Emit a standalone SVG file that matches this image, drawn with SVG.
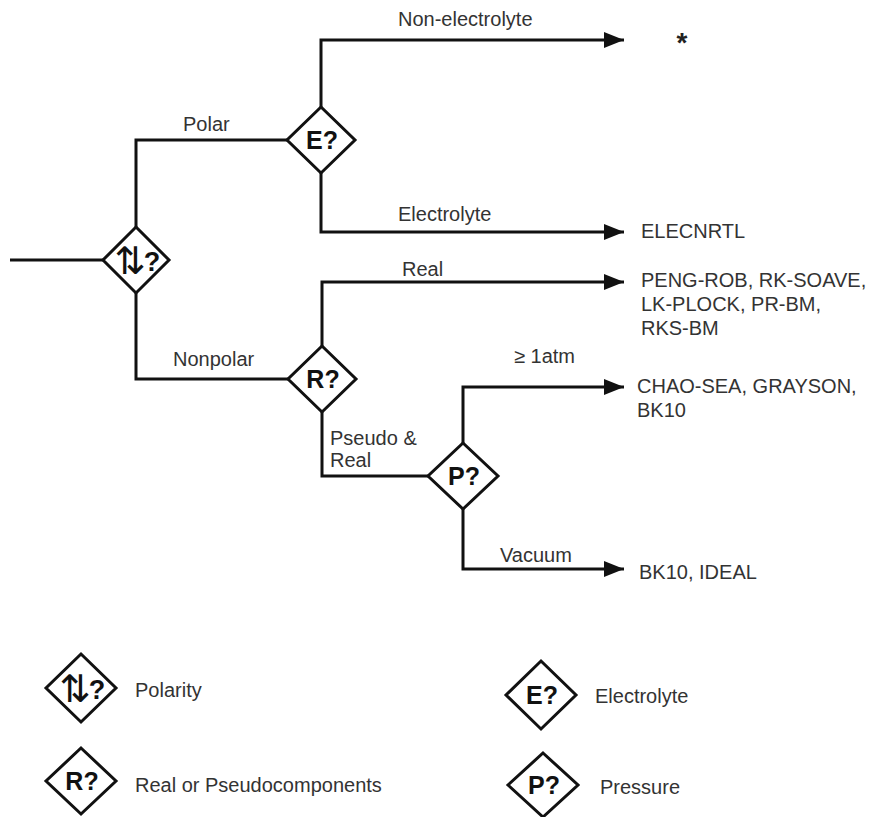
<svg xmlns="http://www.w3.org/2000/svg" width="875" height="817" viewBox="0 0 875 817">
<style>
.ln{fill:none;stroke:#111;stroke-width:3}
.dm{fill:#fff;stroke:#111;stroke-width:3;stroke-linejoin:miter}
.dl{font-family:"Liberation Sans",Arial,sans-serif;font-weight:bold;font-size:25px;fill:#111;text-anchor:middle}
.pl{fill:#111}
.ar{font-family:"DejaVu Sans",sans-serif;font-size:38px;letter-spacing:-21px}
.q{font-family:"Liberation Sans",Arial,sans-serif;font-weight:bold;font-size:27px}
.tx{font-family:"Liberation Sans",Arial,sans-serif;font-size:20px;fill:#333}
.st{font-family:"Liberation Sans",Arial,sans-serif;font-weight:bold;font-size:28px;fill:#222;text-anchor:middle}
</style>
<defs>
<marker id="ah" markerUnits="userSpaceOnUse" markerWidth="20" markerHeight="16" refX="20" refY="8" orient="auto">
<path d="M0,0 L20,8 L0,16 z" fill="#111"/>
</marker>
</defs>
<rect width="875" height="817" fill="#fff"/>
<g id="connectors">
<path class="ln" d="M10,260 H103"/>
<path class="ln" d="M136,227 V140 H287"/>
<path class="ln" d="M136,293 V379 H288"/>
<path class="ln" d="M321,107 V40 H624" marker-end="url(#ah)"/>
<path class="ln" d="M321,173 V232 H624" marker-end="url(#ah)"/>
<path class="ln" d="M322,346 V282 H624" marker-end="url(#ah)"/>
<path class="ln" d="M322,412 V476 H428"/>
<path class="ln" d="M463,443 V387 H624" marker-end="url(#ah)"/>
<path class="ln" d="M463,509 V569 H624" marker-end="url(#ah)"/>
</g>
<g id="edge-labels">
<text class="tx" x="183" y="131">Polar</text>
<text class="tx" x="173" y="366">Nonpolar</text>
<text class="tx" x="398" y="26">Non-electrolyte</text>
<text class="tx" x="398" y="221">Electrolyte</text>
<text class="tx" x="402" y="276">Real</text>
<text class="tx" x="330" y="445">Pseudo &amp;</text>
<text class="tx" x="330" y="467">Real</text>
<text class="tx" x="514" y="363">≥ 1atm</text>
<text class="tx" x="500" y="562">Vacuum</text>
</g>
<g id="node-polarity">
<path class="dm" d="M136,227 L169,260 L136,293 L103,260 Z"/>
<text class="pl" y="274"><tspan class="ar" x="109">↑↓</tspan><tspan class="q" dx="13" dy="-3">?</tspan></text>
</g>
<g id="node-electrolyte">
<path class="dm" d="M321,107 L355,140 L321,173 L287,140 Z"/>
<text class="dl" x="322" y="149">E?</text>
</g>
<g id="node-real">
<path class="dm" d="M322,346 L356,379 L322,412 L288,379 Z"/>
<text class="dl" x="323" y="388">R?</text>
</g>
<g id="node-pressure">
<path class="dm" d="M463,443 L498,476 L463,509 L428,476 Z"/>
<text class="dl" x="464" y="485">P?</text>
</g>
<g id="result-nonelectrolyte">
<text class="st" x="682" y="52">*</text>
</g>
<g id="result-elecnrtl">
<text class="tx" x="641" y="238">ELECNRTL</text>
</g>
<g id="result-real">
<text class="tx" x="641" y="287">PENG-ROB, RK-SOAVE,</text>
<text class="tx" x="641" y="311">LK-PLOCK, PR-BM,</text>
<text class="tx" x="641" y="335">RKS-BM</text>
</g>
<g id="result-high-pressure">
<text class="tx" x="637" y="393">CHAO-SEA, GRAYSON,</text>
<text class="tx" x="637" y="417">BK10</text>
</g>
<g id="result-vacuum">
<text class="tx" x="639" y="579">BK10, IDEAL</text>
</g>
<g id="legend-polarity">
<path class="dm" d="M81,654 L116,688 L81,722 L46,688 Z"/>
<text class="pl" y="702"><tspan class="ar" x="54">↑↓</tspan><tspan class="q" dx="13" dy="-3">?</tspan></text>
<text class="tx" x="135" y="697">Polarity</text>
</g>
<g id="legend-real">
<path class="dm" d="M81,748 L116,781 L81,814 L46,781 Z"/>
<text class="dl" x="82" y="790">R?</text>
<text class="tx" x="135" y="792">Real or Pseudocomponents</text>
</g>
<g id="legend-electrolyte">
<path class="dm" d="M541,661 L576,695 L541,729 L506,695 Z"/>
<text class="dl" x="542" y="704">E?</text>
<text class="tx" x="595" y="703">Electrolyte</text>
</g>
<g id="legend-pressure">
<path class="dm" d="M543,753 L578,785 L543,817 L508,785 Z"/>
<text class="dl" x="544" y="794">P?</text>
<text class="tx" x="600" y="794">Pressure</text>
</g>
</svg>
